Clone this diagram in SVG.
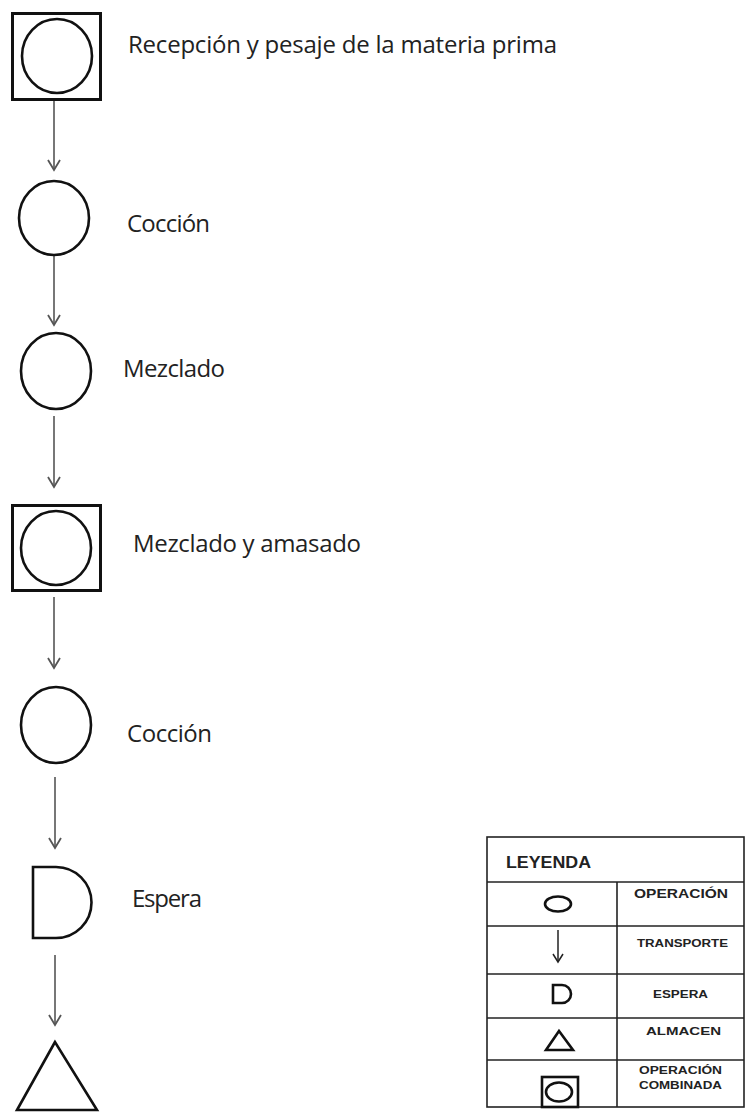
<svg xmlns="http://www.w3.org/2000/svg" width="747" height="1120" viewBox="0 0 747 1120">
<style>
.sym{fill:none;stroke:#111;stroke-width:2.6}
.box{fill:none;stroke:#111;stroke-width:3}
.con{fill:none;stroke:#555;stroke-width:1.6}
.lbl{font-family:"Open Sans","Liberation Sans",sans-serif;font-size:24px;fill:#222}
.leg{font-family:"Liberation Sans",Arial,sans-serif;font-weight:bold;fill:#222}
.grid{fill:none;stroke:#222;stroke-width:1.6}
</style>
<defs>
<marker id="arr" markerUnits="userSpaceOnUse" markerWidth="16" markerHeight="16" viewBox="-12 -8 16 16" refX="0" refY="0" orient="auto">
<path d="M-10,-6 L0,0 L-10,6" fill="none" stroke="#555" stroke-width="1.8"/>
</marker>
</defs>
<rect width="747" height="1120" fill="#fff"/>
<g id="connectors">
<line class="con" x1="54" y1="100" x2="54" y2="170" marker-end="url(#arr)"/>
<line class="con" x1="54" y1="256" x2="54" y2="325" marker-end="url(#arr)"/>
<line class="con" x1="54" y1="416" x2="54" y2="487" marker-end="url(#arr)"/>
<line class="con" x1="54" y1="597" x2="54" y2="668" marker-end="url(#arr)"/>
<line class="con" x1="55" y1="777" x2="55" y2="848" marker-end="url(#arr)"/>
<line class="con" x1="55" y1="955" x2="55" y2="1025" marker-end="url(#arr)"/>
</g>
<g id="n1">
<rect class="box" x="12.5" y="13.5" width="88" height="86"/>
<ellipse class="sym" cx="57" cy="56" rx="35" ry="37"/>
<text class="lbl" x="128" y="53" textLength="429">Recepción y pesaje de la materia prima</text>
</g>
<g id="n2">
<ellipse class="sym" cx="54" cy="218" rx="35" ry="37"/>
<text class="lbl" x="127" y="232" textLength="83">Cocción</text>
</g>
<g id="n3">
<ellipse class="sym" cx="56" cy="371" rx="35" ry="38"/>
<text class="lbl" x="123" y="377" textLength="102">Mezclado</text>
</g>
<g id="n4">
<rect class="box" x="12.5" y="505.5" width="88" height="85"/>
<ellipse class="sym" cx="56" cy="548" rx="35" ry="37"/>
<text class="lbl" x="133" y="552" textLength="228">Mezclado y amasado</text>
</g>
<g id="n5">
<ellipse class="sym" cx="56" cy="725" rx="35" ry="38"/>
<text class="lbl" x="127" y="742" textLength="85">Cocción</text>
</g>
<g id="n6">
<path class="sym" d="M33,867 H56 A35.5,35.5 0 0 1 56,938 H33 Z"/>
<text class="lbl" x="132" y="907" textLength="70">Espera</text>
</g>
<g id="n7">
<path class="sym" d="M55,1042 L17,1110 L97,1110 Z"/>
</g>
<g id="legend">
<rect class="grid" x="487" y="837" width="257" height="270" stroke-width="2"/>
<line class="grid" x1="487" y1="882" x2="744" y2="882"/>
<line class="grid" x1="617" y1="882" x2="617" y2="1107"/>
<line class="grid" x1="487" y1="926" x2="744" y2="926"/>
<line class="grid" x1="487" y1="974" x2="744" y2="974"/>
<line class="grid" x1="487" y1="1018" x2="744" y2="1018"/>
<line class="grid" x1="487" y1="1060" x2="744" y2="1060"/>
<text class="leg" x="506" y="868" font-size="16" textLength="85" lengthAdjust="spacingAndGlyphs">LEYENDA</text>
<text class="leg" x="634" y="898" font-size="12" textLength="94" lengthAdjust="spacingAndGlyphs">OPERACIÓN</text>
<text class="leg" x="637" y="947" font-size="11" textLength="91" lengthAdjust="spacingAndGlyphs">TRANSPORTE</text>
<text class="leg" x="653" y="998" font-size="11" textLength="55" lengthAdjust="spacingAndGlyphs">ESPERA</text>
<text class="leg" x="646" y="1035" font-size="11" textLength="75" lengthAdjust="spacingAndGlyphs">ALMACEN</text>
<text class="leg" x="639" y="1074" font-size="11" textLength="83" lengthAdjust="spacingAndGlyphs">OPERACIÓN</text>
<text class="leg" x="639" y="1089" font-size="11" textLength="83" lengthAdjust="spacingAndGlyphs">COMBINADA</text>
<ellipse cx="558" cy="904" rx="13" ry="7.5" fill="none" stroke="#111" stroke-width="2.6"/>
<line x1="558" y1="930" x2="558" y2="962" stroke="#222" stroke-width="1.5"/>
<path d="M553,954 L558,962 L563,954" fill="none" stroke="#222" stroke-width="1.5"/>
<path d="M553,985 H562 A9,9 0 0 1 562,1003 H553 Z" fill="none" stroke="#111" stroke-width="2.6"/>
<path d="M559,1031 L546,1050 L573,1050 Z" fill="none" stroke="#111" stroke-width="2.6"/>
<rect x="542" y="1077" width="36" height="30" fill="none" stroke="#111" stroke-width="2.6"/>
<ellipse cx="559" cy="1092" rx="13" ry="9.5" fill="none" stroke="#111" stroke-width="2.6"/>
</g>
</svg>
